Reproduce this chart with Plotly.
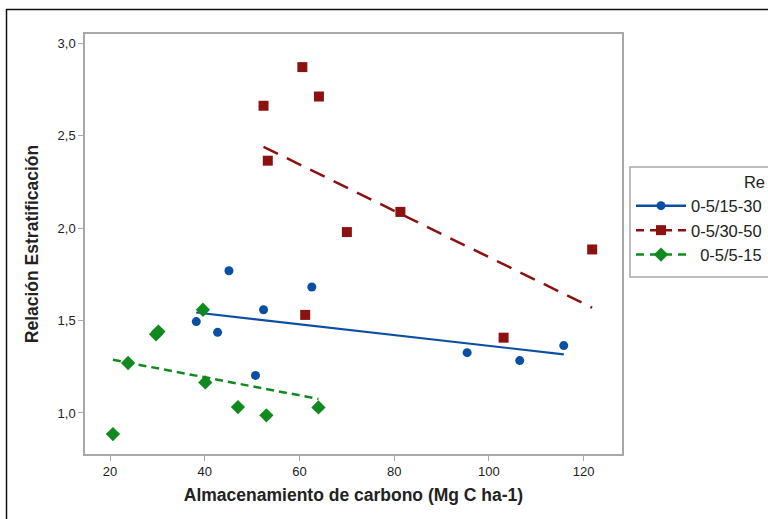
import numpy as np
import plotly.graph_objects as go

# ---- data ----
series_names = ["0-5/15-30", "0-5/30-50", "0-5/5-15"]

x_15_30 = [38.2, 42.7, 45.1, 50.7, 52.4, 62.6, 95.4, 106.5, 115.8]
y_15_30 = [1.494, 1.436, 1.769, 1.203, 1.558, 1.681, 1.326, 1.283, 1.364]

x_30_50 = [52.4, 53.3, 60.6, 64.1, 61.2, 70.0, 81.3, 103.1, 121.8]
y_30_50 = [2.661, 2.364, 2.870, 2.711, 1.530, 1.978, 2.087, 1.407, 1.884]

x_5_15 = [20.6, 23.8, 29.7, 30.2, 39.6, 40.1, 47.0, 53.0, 64.0]
y_5_15 = [0.886, 1.270, 1.425, 1.440, 1.558, 1.165, 1.032, 0.987, 1.030]

x_ticks = [20, 40, 60, 80, 100, 120]
y_ticks = [1.0, 1.5, 2.0, 2.5, 3.0]

colors = ["#0b4fa3", "#8c1111", "#108a1e"]
symbols = ["circle", "square", "diamond"]
marker_sizes = [9, 10, 11]

groups = [(x_15_30, y_15_30), (x_30_50, y_30_50), (x_5_15, y_5_15)]
labels = [series_names[0], series_names[1], "\u2007" + series_names[2]]

fig = go.Figure()
font_family = "Liberation Sans, Arial, sans-serif"

for i, (xs, ys) in enumerate(groups):
    xs_a = np.array(xs)
    ys_a = np.array(ys)
    slope, intercept = np.polyfit(xs_a, ys_a, 1)
    fx = np.array([xs_a.min(), xs_a.max()])
    fy = slope * fx + intercept
    dash = "solid" if i == 0 else ("16px,10px" if i == 1 else "8px,5px")
    # points
    fig.add_trace(go.Scatter(
        x=xs, y=ys, mode="markers", showlegend=False,
        marker=dict(symbol=symbols[i], size=marker_sizes[i], color=colors[i],
                    line=dict(width=0)),
    ))
    # fit line
    fig.add_trace(go.Scatter(
        x=fx, y=fy, mode="lines", showlegend=False,
        line=dict(color=colors[i], width=2.5 if i else 2.2, dash=dash),
    ))
    # legend entry
    fig.add_trace(go.Scatter(
        x=[None], y=[None], mode="lines+markers", name=labels[i],
        marker=dict(symbol=symbols[i], size=marker_sizes[i], color=colors[i]),
        line=dict(color=colors[i], width=2.5, dash=("solid" if i == 0 else "8px,6px")),
    ))

axis_common = dict(
    showline=True, mirror=True, linecolor="#a8a8a8", linewidth=1.5,
    ticks="outside", ticklen=5, tickcolor="#a8a8a8", tickwidth=1,
    showgrid=False, zeroline=False,
    tickfont=dict(family=font_family, size=13, color="#222222"),
)

fig.update_layout(
    width=768, height=519,
    margin=dict(l=85, r=146, t=34, b=65, autoexpand=False),
    paper_bgcolor="white", plot_bgcolor="white",
    separators=",.",
    font=dict(family=font_family, color="#222222"),
    xaxis=dict(range=[14.7, 128.1], tickvals=x_ticks, ticktext=[str(v) for v in x_ticks],
               title=dict(text="<b>Almacenamiento de carbono (Mg C ha-1)</b>",
                          font=dict(family=font_family, size=17.5, color="#222222"),
                          standoff=10),
               **axis_common),
    yaxis=dict(range=[0.778, 3.049], tickvals=y_ticks, tickformat=".1f",
               title=dict(text="<b>Relación Estratificación</b>",
                          font=dict(family=font_family, size=17.5, color="#222222"),
                          standoff=14),
               **axis_common),
    legend=dict(
        x=(631 - 85) / 537, y=(454 - 167) / 420, xanchor="left", yanchor="top",
        bgcolor="rgba(0,0,0,0)", borderwidth=0,
        font=dict(family=font_family, size=16.5, color="#222222"),
        title=dict(text="Re", side="top right",
                   font=dict(family=font_family, size=16.5, color="#222222")),
        itemwidth=50, tracegroupgap=0,
    ),
    showlegend=True,
)

# legend frame (extends past the right edge, as in the reference)
fig.add_shape(type="rect", xref="paper", yref="paper",
              x0=(630 - 85) / 537, x1=(800 - 85) / 537,
              y0=(454 - 277) / 420, y1=(454 - 167) / 420,
              line=dict(color="#a8a8a8", width=1.5), fillcolor="rgba(0,0,0,0)", layer="below")

# outer black frame
fig.add_shape(type="rect", xref="paper", yref="paper",
              x0=(6.5 - 85) / 537, x1=(800 - 85) / 537,
              y0=(454 - 560) / 420, y1=(454 - 9.5) / 420,
              line=dict(color="#111111", width=1.5), fillcolor="rgba(0,0,0,0)", layer="below")

fig.write_html("out.html",
               config={"displayModeBar": False},
               post_script="document.body.style.margin='0px';document.body.style.overflow='hidden';")
